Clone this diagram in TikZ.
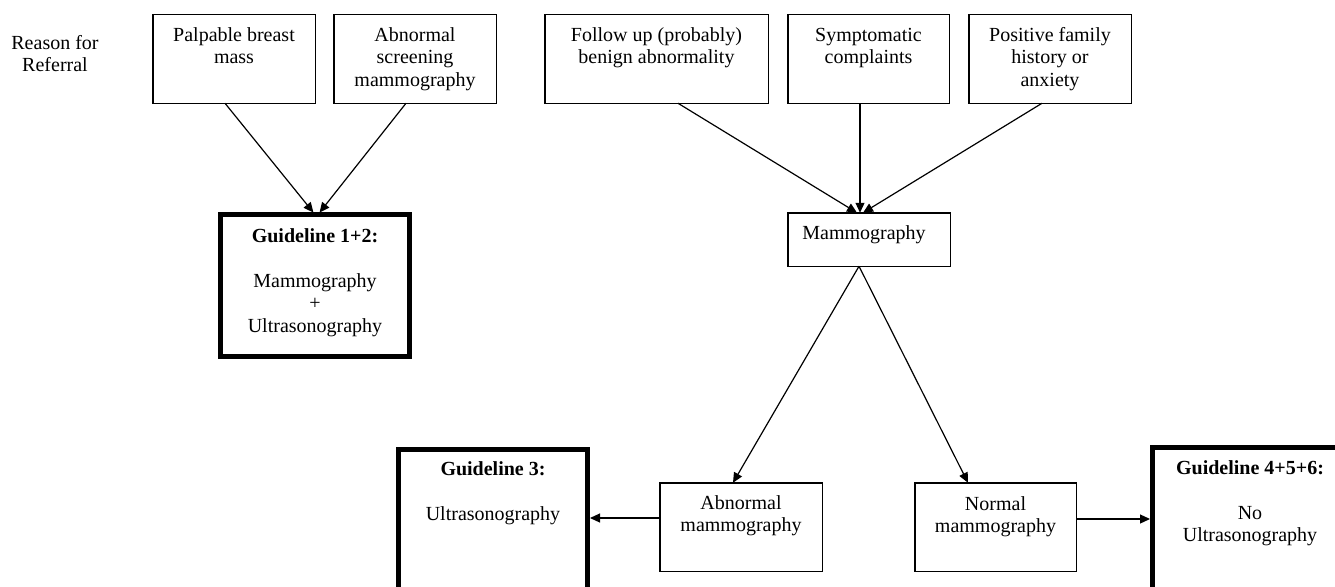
\documentclass[tikz,border=0pt]{standalone}
\usepackage{fontspec}
\setmainfont{Liberation Serif}
\usetikzlibrary{arrows.meta}
\newcommand\myst{\rule{0pt}{15pt}}
\begin{document}
\begin{tikzpicture}[x=1pt,y=-1pt,
  thinbox/.style={draw, line width=1.5pt, rectangle, inner sep=0, outer sep=0, minimum height=88.5pt},
  thickbox/.style={draw, line width=5pt, rectangle, inner sep=0, outer sep=0, minimum width=189pt, minimum height=142pt},
  txt/.style={anchor=north, inner sep=0, outer sep=0, align=center, font=\fontsize{20}{22.5}\selectfont},
  conn/.style={line width=1.2pt, -{Triangle[length=10pt,width=9pt]}},
  conntk/.style={conn, shorten >=2.5pt}]
\useasboundingbox (0,0) rectangle (1335,586);
\clip (0,0) rectangle (1335,586);
\fill[white] (0,0) rectangle (1335,586);

% reason
\node[txt] (reason) at (55,34) {\myst Reason for\\Referral};

% top boxes
\node[thinbox, minimum width=162.5pt] (palp) at (234,59) {};
\node[txt] (palpt) at (234,26) {\myst Palpable breast\\mass};
\node[thinbox, minimum width=162.5pt] (absc) at (415,59) {};
\node[txt] (absct) at (415,26) {\myst Abnormal\\screening\\mammography};
\node[thinbox, minimum width=223.5pt] (foll) at (656.5,59) {};
\node[txt] (follt) at (656.5,26) {\myst Follow up (probably)\\benign abnormality};
\node[thinbox, minimum width=161.5pt] (symp) at (868.5,59) {};
\node[txt] (sympt) at (868.5,26) {\myst Symptomatic\\complaints};
\node[thinbox, minimum width=162.5pt] (posi) at (1050,59) {};
\node[txt] (posit) at (1050,26) {\myst Positive family\\history or\\anxiety};

% guideline 1+2
\node[thickbox] (g12) at (315,285.5) {};
\node[txt] (g12t) at (315,227) {\myst\textbf{Guideline 1+2:}\\[22.5pt]Mammography\\+\\Ultrasonography};

% mammography
\node[thinbox, minimum width=162.5pt, minimum height=53.5pt] (mamm) at (869,239.5) {};
\node[txt] (mammt) at (864,224.3) {\myst Mammography};

% bottom boxes
\node[thinbox, minimum width=162.5pt] (abn) at (741,527) {};
\node[txt] (abnt) at (741,494) {\myst Abnormal\\mammography};
\node[thinbox, minimum width=161.5pt] (nor) at (995.5,527) {};
\node[txt] (nort) at (995.5,495) {\myst Normal\\mammography};

\node[thickbox] (g3) at (493,520.5) {};
\node[txt] (g3t) at (493,460) {\myst\textbf{Guideline 3:}\\[22.5pt]Ultrasonography};
\node[thickbox, minimum width=195pt] (g456) at (1250,518.5) {};
\node[txt] (g456t) at (1250,459) {\myst\textbf{Guideline 4+5+6:}\\[22.5pt]No\\Ultrasonography};

% connectors
\draw[conntk] ([xshift=-9pt]palp.south) -- (g12.north);
\draw[conntk] ([xshift=-9pt]absc.south) -- ([xshift=3pt]g12.north);
\draw[conn] ([xshift=21.5pt]foll.south) -- ([xshift=-12pt]mamm.north);
\draw[conn] ([xshift=-8.5pt]symp.south) -- ([xshift=-9pt]mamm.north);
\draw[conn] ([xshift=-8pt]posi.south) -- ([xshift=-6pt]mamm.north);
\draw[conn] ([xshift=-10pt]mamm.south) -- ([xshift=-8pt]abn.north);
\draw[conn] ([xshift=-10pt]mamm.south) -- ([xshift=-27.5pt]nor.north);
\draw[conntk] ([yshift=9pt]abn.west) -- ([yshift=9pt]abn.west -| g3.east);
\draw[conntk] ([yshift=8pt]nor.east) -- ([yshift=8pt]nor.east -| g456.west);
\end{tikzpicture}
\end{document}
